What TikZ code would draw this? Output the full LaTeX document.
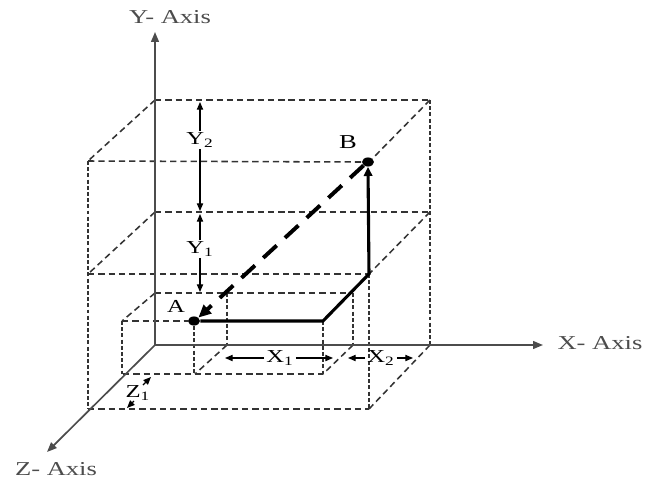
\documentclass[tikz,border=0pt]{standalone}
\usepackage{fontspec}
\setmainfont{Liberation Serif}
\usetikzlibrary{arrows.meta,shapes.geometric}

\begin{document}
\begin{tikzpicture}[x=0.025cm, y=-0.025cm, >={Triangle[length=5.5pt,width=4.5pt]},
    hdash/.style={black!80, line width=1.1pt, dash pattern=on 4.5pt off 2.8pt},
    vdash/.style={black!80, line width=1.1pt, dash pattern=on 2.8pt off 1.6pt},
    axis/.style={black!70, line width=1.2pt, ->, >={Triangle[length=7pt,width=5.5pt]}},
    dim/.style={black, line width=0.8pt, ->},
    axislbl/.style={font=\fontsize{14}{16}\selectfont, xscale=1.35, inner sep=0pt},
    dimlbl/.style={font=\fontsize{13}{15}\selectfont, xscale=1.35, inner sep=1pt},
    dot/.style={ellipse, fill=black, inner sep=0pt, minimum width=8.5pt, minimum height=6.5pt}]
    \useasboundingbox (0,0) rectangle (645,481);

    % Punkte A und B
    \node[dot] (A) at (194,321) {};
    \node[dot] (B) at (368,162) {};
    \node[axislbl, font=\fontsize{13}{15}\selectfont] (Alabel) at (176,306) {A};
    \node[axislbl] (Blabel) at (348,142) {B};

    % aeusserer Quader (oben)
    \draw[hdash] (155,100) -- (430,100);
    \draw[hdash] (155,100) -- (88,161);
    \draw[hdash] (88,161) -- (B.west);
    \draw[hdash] (430,100) -- (B.north east);
    \draw[vdash] (88,161) -- (88,409);
    \draw[vdash] (430,100) -- (430,345);
    % mittlere Ebene
    \draw[hdash] (155,212) -- (430,212);
    \draw[hdash] (155,212) -- (88,274);
    \draw[hdash] (88,274) -- (369,274);
    \draw[hdash] (430,212) -- (369,274);
    % unten
    \draw[vdash] (369,274) -- (369,409);
    \draw[hdash] (88,409) -- (369,409);
    \draw[hdash] (430,345) -- (369,409);

    % innerer Quader
    \draw[hdash] (155,293) -- (353,293);
    \draw[hdash] (155,293) -- (122,321);
    \draw[hdash] (122,321) -- (A.west);
    \draw[vdash] (122,321) -- (122,374);
    \draw[hdash] (123,374) -- (323,374);
    \draw[vdash] (323,321) -- (323,374);
    \draw[vdash] (353,293) -- (353,345);
    \draw[hdash] (353,345) -- (323,374);
    % Ebene durch A
    \draw[vdash] (227,293) -- (227,345);
    \draw[hdash] (227,345) -- (195,374);
    \draw[vdash] (A.south) -- (194,374);

    % Achsen
    \coordinate (O) at (155,345);
    \draw[axis] (O) -- (155,32) node (Ylabel) at (170,17) [axislbl] {Y-\ Axis};
    \draw[axis] (O) -- (543,345) node (Xlabel) at (600,343) [axislbl] {X-\ Axis};
    \draw[axis] (O) -- (47,452) node (Zlabel) at (56,469) [axislbl] {Z-\ Axis};

    % Weg von A nach B
    \draw[line width=2.2pt, line join=miter, ->, >={Triangle[length=6.5pt,width=6pt]}]
        (A.east) -- (323,321) -- (369,274) -- (B.south);
    \draw[line width=2.8pt, dash pattern=on 13pt off 8pt, ->, >={Triangle[length=9pt,width=8pt]}]
        (B.south west) -- (A.north east);

    % Masse Y1, Y2
    \node[dimlbl] (Y2) at (200,140) {Y\textsubscript{2}};
    \node[dimlbl] (Y1) at (200,249) {Y\textsubscript{1}};
    \draw[dim] (Y2.north) -- (200,102);
    \draw[dim] (Y2.south) -- (200,211);
    \draw[dim] (Y1.north) -- (200,214);
    \draw[dim] (Y1.south) -- (200,292);

    % Masse X1, X2
    \node[dimlbl] (X1) at (280,358) {X\textsubscript{1}};
    \node[dimlbl] (X2) at (381,358) {X\textsubscript{2}};
    \draw[dim] (X1.west) -- (225,358);
    \draw[dim] (X1.east) -- (333,358);
    \draw[dim] (X2.west) -- (348,358);
    \draw[dim] (X2.east) -- (413,358);

    % Mass Z1
    \node[dimlbl] (Z1) at (138,393) {Z\textsubscript{1}};
    \draw[dim] (143,385) -- (151,377);
    \draw[dim] (134,401) -- (127,408);
\end{tikzpicture}
\end{document}
